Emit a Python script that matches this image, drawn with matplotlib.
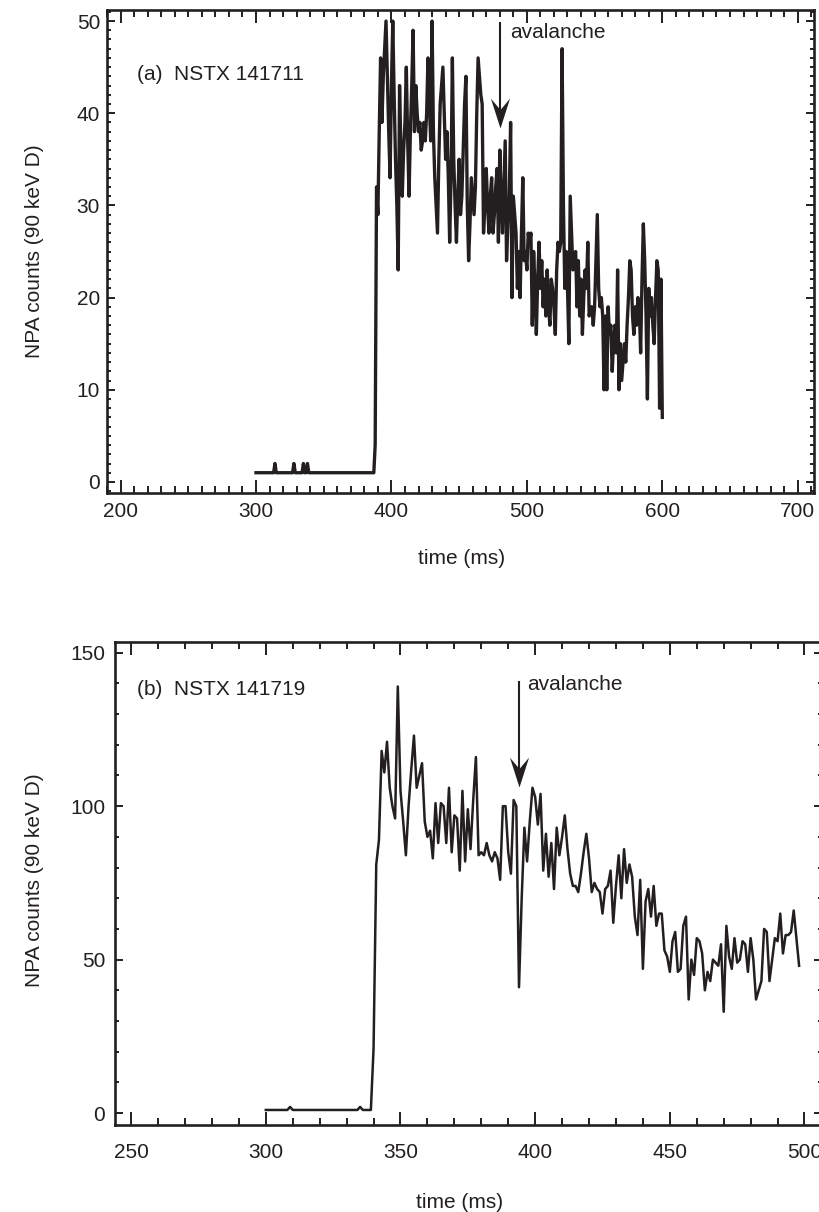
import matplotlib
matplotlib.use("Agg")
import matplotlib.pyplot as plt
from matplotlib.ticker import MultipleLocator
from matplotlib.path import Path
import numpy as np

plt.rcParams['font.family'] = ['Liberation Sans', 'DejaVu Sans']

W, H = 820, 1212
INK = '#231f20'

# ---- (a) NSTX 141711 ----
# quiet baseline before beam injection (sparse points), then 1 ms samples
base_t_a = [300, 313, 314, 315, 327, 328, 329, 334, 335, 336, 337, 338, 339, 387, 388]
base_c_a = [1, 1, 2, 1, 1, 2, 1, 1, 2, 1, 1, 2, 1, 1, 4]
counts_a = [
    32,                                              # 389
    29, 38, 46, 39, 44, 47, 50, 44, 38, 33,          # 390
    43, 50, 42, 35, 30, 23, 43, 36, 31, 36,          # 400
    39, 45, 37, 31, 38, 43, 49, 38, 43, 40,          # 410
    38, 39, 36, 37, 39, 37, 40, 46, 41, 37,          # 420
    50, 38, 33, 30, 27, 35, 41, 43, 45, 40,          # 430
    35, 38, 33, 26, 33, 46, 35, 30, 26, 31,          # 440
    35, 29, 31, 36, 41, 44, 30, 24, 28, 33,          # 450
    31, 29, 32, 40, 46, 44, 42, 41, 27, 30,          # 460
    34, 30, 27, 31, 33, 27, 29, 32, 34, 26,          # 470
    36, 31, 27, 32, 37, 24, 28, 31, 39, 20,          # 480
    31, 29, 27, 21, 25, 20, 27, 33, 24, 25,          # 490
    23, 27, 26, 27, 17, 25, 21, 16, 22, 26,          # 500
    21, 24, 19, 22, 18, 23, 19, 17, 22, 21,          # 510
    19, 16, 23, 26, 25, 26, 47, 30, 21, 25,          # 520
    21, 15, 31, 27, 23, 24, 25, 19, 24, 18,          # 530
    22, 16, 20, 23, 21, 26, 18, 19, 19, 17,          # 540
    19, 24, 29, 21, 19, 20, 18, 10, 18, 10,          # 550
    19, 16, 17, 12, 15, 17, 14, 23, 10, 15,          # 560
    11, 13, 15, 13, 17, 20, 24, 23, 18, 16,          # 570
    19, 17, 20, 19, 14, 22, 28, 24, 18, 9,           # 580
    21, 18, 20, 17, 15, 20, 24, 23, 8, 22,           # 590
    7,                                               # 600
]
time_a = base_t_a + list(range(389, 389 + len(counts_a)))
npa_a = base_c_a + counts_a

# ---- (b) NSTX 141719 ----
base_t_b = [300, 308, 309, 310, 334, 335, 336, 339]
base_c_b = [1, 1, 2, 1, 1, 2, 1, 1]
counts_b = [
    21,                                                   # 340
    81, 89, 118, 111, 121, 106, 100, 96, 139,             # 341
    105, 95, 84, 100, 112, 123, 106, 110, 114, 95,        # 350
    90, 92, 83, 101, 88, 101, 100, 88, 106, 85,           # 360
    97, 96, 79, 105, 82, 99, 86, 102, 116, 84,            # 370
    85, 84, 88, 84, 82, 85, 83, 76, 100, 100,             # 380
    85, 78, 102, 100, 41, 70, 93, 82, 95, 106,            # 390
    103, 94, 104, 79, 91, 77, 88, 73, 93, 84,             # 400
    90, 97, 86, 78, 74, 74, 72, 78, 85, 91,               # 410
    83, 72, 75, 73, 72, 65, 73, 74, 79, 62,               # 420
    74, 84, 70, 86, 75, 81, 77, 64, 58, 76,               # 430
    47, 69, 73, 64, 74, 61, 65, 65, 53, 51,               # 440
    46, 56, 59, 46, 47, 61, 64, 37, 50, 45,               # 450
    57, 56, 52, 40, 46, 43, 50, 49, 48, 55,               # 460
    33, 61, 51, 47, 57, 49, 50, 56, 55, 46,               # 470
    57, 50, 37, 40, 43, 60, 59, 43, 50, 57,               # 480
    56, 65, 52, 58, 58, 59, 66, 57, 48,                   # 490
]
time_b = base_t_b + list(range(340, 340 + len(counts_b)))
npa_b = base_c_b + counts_b


def rect(l, t, r, b):
    return [l / W, 1 - b / H, (r - l) / W, (b - t) / H]


def fx(x):
    return x / W


def fy(y):
    return 1 - y / H


fig = plt.figure(figsize=(W / 100, H / 100), dpi=100)
ax1 = fig.add_axes(rect(107, 10, 814, 493))
ax2 = fig.add_axes(rect(115, 642, 822, 1125))

ax1.plot(time_a, npa_a, color=INK, lw=2.4)
ax2.plot(time_b, npa_b, color=INK, lw=1.8)

ax1.set_xlim(190, 712)
ax1.set_ylim(-1.2, 51.2)
ax1.xaxis.set_major_locator(MultipleLocator(100))
ax1.xaxis.set_minor_locator(MultipleLocator(10))
ax1.yaxis.set_major_locator(MultipleLocator(10))
ax1.yaxis.set_minor_locator(MultipleLocator(1))

ax2.set_xlim(244, 506.5)
ax2.set_ylim(-3.9, 153.5)
ax2.xaxis.set_major_locator(MultipleLocator(50))
ax2.xaxis.set_minor_locator(MultipleLocator(10))
ax2.yaxis.set_major_locator(MultipleLocator(50))
ax2.yaxis.set_minor_locator(MultipleLocator(10))

for ax, xpad, ypad in ((ax1, 6.5, 5), (ax2, 13, 7)):
    for s in ax.spines.values():
        s.set_linewidth(1.9)
        s.set_color(INK)
    ax.tick_params(which='both', direction='in', top=True, right=True,
                   colors=INK, labelsize=15, width=1.4)
    ax.tick_params(axis='x', which='major', length=9.5, pad=xpad)
    ax.tick_params(axis='x', which='minor', length=4.8)
    ax.tick_params(axis='y', which='major', length=5.6, pad=ypad)
    ax.tick_params(axis='y', which='minor', length=2.8)

# concave arrow head, tip at origin
head = Path([(0, 0), (-0.32, 1), (0, 0.62), (0.32, 1), (0, 0)],
            [Path.MOVETO, Path.LINETO, Path.LINETO, Path.LINETO, Path.CLOSEPOLY])

# avalanche markers
aval_t = [480, 394]
aval_tip = [38.4, 106.3]
aval_top = [49.8, 140.5]
for ax, t, y0, y1 in zip((ax1, ax2), aval_t, aval_tip, aval_top):
    ax.plot([t, t], [y0 + 0.1 * (y1 - y0), y1], color=INK, lw=1.5)
    ax.plot([t], [y0], marker=head, markersize=43, color=INK, mec=INK, mew=0)

kw = dict(fontsize=15, color=INK)
fig.text(fx(510), fy(33), 'avalanche', ha='left', va='center', **kw)
fig.text(fx(527), fy(685), 'avalanche', ha='left', va='center', **kw)
fig.text(fx(137), fy(75), '(a)  NSTX 141711', ha='left', va='center', **kw)
fig.text(fx(137), fy(690), '(b)  NSTX 141719', ha='left', va='center', **kw)

fig.text(fx(462), fy(558), 'time (ms)', ha='center', va='center', **kw)
fig.text(fx(460), fy(1202), 'time (ms)', ha='center', va='center', **kw)
fig.text(fx(35), fy(251), 'NPA counts (90 keV D)', rotation=90,
         ha='center', va='center', **kw)
fig.text(fx(35), fy(880), 'NPA counts (90 keV D)', rotation=90,
         ha='center', va='center', **kw)

fig.savefig('out.png', dpi=100)
